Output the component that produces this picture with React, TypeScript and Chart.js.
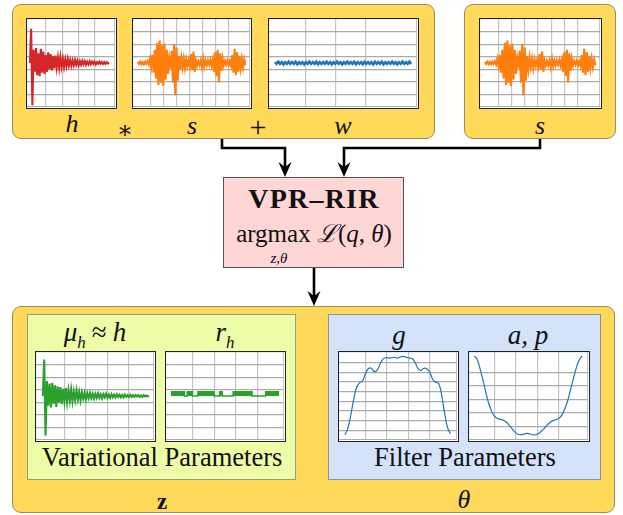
import React, { useEffect, useRef } from "react";
import { Chart, registerables } from "chart.js";

Chart.register(...registerables);

// ---------- data ----------
const hSignal = [
  0, 0.78, -0.96, 0.3, -0.2, 0.34, -0.28, 0.22, -0.3, 0.32, -0.22, 0.26, -0.25, 0.18, -0.2, 0.24,
  -0.14, 0.2, -0.17, 0.15, -0.12, 0.17, -0.1, 0.12, -0.11, 0.13, -0.08, 0.1, -0.09, 0.08, -0.07,
  0.09, -0.06, 0.07, -0.06, 0.06, -0.05, 0.07, -0.04, 0.05, -0.05, 0.04, -0.04, 0.05, -0.03, 0.04,
  -0.04, 0.03, -0.03, 0.04, -0.03, 0.03, -0.02, 0.03, -0.03, 0.02, -0.02, 0.03, -0.02, 0.02, -0.02,
  0.02, -0.02, 0.02, -0.01, 0,
];

const sSignal = [
  0.03, -0.02, 0.03, -0.03, 0.02, -0.03, 0.03, -0.02, 0.04, -0.03,
  0.1, -0.08, 0.18, -0.22,
  0.3, -0.35, 0.46, -0.5, 0.51, -0.45, 0.4, -0.52, 0.44, -0.38, 0.3, -0.25,
  0.1, -0.12,
  0.28, -0.45, 0.43, -0.74, 0.35, -0.4,
  0.15, -0.14, 0.12, -0.1, 0.1, -0.12, 0.08, -0.07, 0.06, -0.08,
  0.2, -0.16, 0.26, -0.2,
  0.05, -0.06, 0.04, -0.05, 0.06,
  -0.1, 0.1, -0.08, 0.05,
  -0.05, 0.06, -0.04, 0.07, -0.06, 0.08,
  -0.2, 0.25, -0.3, 0.3, -0.44, 0.22, -0.18, 0.1,
  -0.06, 0.05, -0.04, 0.05, -0.05, 0.04, -0.06,
  0.18, -0.22, 0.32, -0.28, 0.25, -0.2, 0.15,
  -0.12, 0.1, -0.1, 0.08, -0.05,
];

const wSignal = [
  0.02, -0.02, 0.03, -0.02, 0.02, -0.03, 0.02, -0.02, 0.03, -0.02,
  0.02, -0.02, 0.03, -0.03, 0.02, -0.02, 0.02, -0.03, 0.02, -0.02,
  0.03, -0.02, 0.02, -0.02, 0.03, -0.03, 0.02, -0.02, 0.02, -0.02,
  0.03, -0.02, 0.02, -0.03, 0.02, -0.02, 0.03, -0.02, 0.02, -0.03,
  0.02, -0.02, 0.03, -0.02, 0.02, -0.02, 0.03, -0.03, 0.02, -0.02,
  0.02, -0.03, 0.03, -0.02, 0.02, -0.02, 0.02, -0.03, 0.03, -0.02,
  0.02, -0.02, 0.03, -0.03, 0.02, -0.02, 0.02, -0.02, 0.03, -0.02,
  0.02, -0.03, 0.02, -0.02, 0.03, -0.02, 0.02, -0.02, 0.03, -0.02,
];

const muSignal = [
  0, 0.83, -0.9, 0.34, -0.22, 0.28, -0.26, 0.3, -0.18, 0.24, -0.25, 0.22, -0.15, 0.2, -0.18, 0.16,
  -0.12, 0.18, -0.14, 0.13, -0.1, 0.15, -0.12, 0.1, -0.09, 0.12, -0.08, 0.09, -0.1, 0.08, -0.06,
  0.07, -0.08, 0.06, -0.05, 0.07, -0.05, 0.05, -0.06, 0.05, -0.04, 0.06, -0.04, 0.04, -0.05, 0.04,
  -0.03, 0.05, -0.04, 0.03, -0.04, 0.04, -0.03, 0.03, -0.03, 0.04, -0.02, 0.03, -0.03, 0.02, -0.03,
  0.03, -0.02, 0.02, -0.02, 0.03, -0.02, 0.02, -0.02, 0.02, -0.01, 0.02, -0.02, 0.01, -0.02, 0.02,
  -0.01, 0.01, -0.01, 0,
];

const rhMask = [
  0.1, 0.1, 0.1, 0.1, 0.1, 0.1, 0, 0.1, 0.1, 0, 0, 0.1, 0.1, 0.1, 0.1, 0.1, 0.1, 0, 0, 0.1,
  0, 0, 0, 0, 0.1, 0.1, 0.1, 0.1, 0.1, 0.1, 0.1, 0, 0, 0, 0, 0, 0.1, 0.1, 0.1, 0.1, 0.1,
];

const gCurve = [
  0.06, 0.13, 0.28, 0.46, 0.6, 0.65, 0.67, 0.75, 0.81, 0.815, 0.78, 0.79, 0.86, 0.92, 0.935, 0.93,
  0.935, 0.94, 0.93, 0.945, 0.95, 0.94, 0.93, 0.925, 0.88, 0.81, 0.79, 0.815, 0.81, 0.77, 0.69,
  0.655, 0.645, 0.52, 0.32, 0.15, 0.07,
];

const apCurve = [
  0.955, 0.92, 0.82, 0.69, 0.55, 0.42, 0.33, 0.27, 0.245, 0.235, 0.225, 0.205, 0.17, 0.13, 0.09,
  0.065, 0.06, 0.065, 0.075, 0.07, 0.06, 0.06, 0.07, 0.1, 0.13, 0.17, 0.2, 0.22, 0.23, 0.245, 0.28,
  0.35, 0.44, 0.57, 0.7, 0.82, 0.91, 0.955,
];

// ---------- colours ----------
const RED = "#d62728";
const ORANGE = "#ff7f0e";
const BLUE = "#1f77b4";
const GREEN = "#2ca02c";
const YELLOW = "#FFD95A";

const toXY = (arr: number[]) => arr.map((v, i) => ({ x: i, y: v }));

type MiniProps = {
  left: number;
  top: number;
  width: number;
  height: number;
  datasets: any[];
  xMin: number;
  xMax: number;
  xStep: number;
  yMin: number;
  yMax: number;
  yStep: number;
};

function Mini(p: MiniProps) {
  const ref = useRef<HTMLCanvasElement | null>(null);
  useEffect(() => {
    if (!ref.current) return;
    const chart = new Chart(ref.current, {
      type: "line",
      data: { datasets: p.datasets },
      options: {
        animation: false,
        responsive: false,
        events: [],
        layout: { padding: 0 },
        plugins: { legend: { display: false }, tooltip: { enabled: false }, title: { display: false } },
        elements: { point: { radius: 0 } },
        scales: {
          x: {
            type: "linear",
            min: p.xMin,
            max: p.xMax,
            ticks: { display: false, stepSize: p.xStep },
            grid: { color: "#c4c4c4", lineWidth: 1.2, drawTicks: false },
            border: { display: false },
          },
          y: {
            type: "linear",
            min: p.yMin,
            max: p.yMax,
            ticks: { display: false, stepSize: p.yStep },
            grid: { color: "#ababab", lineWidth: 1.2, drawTicks: false },
            border: { display: false },
          },
        },
      },
    });
    return () => chart.destroy();
  }, []);
  return (
    <div
      style={{
        position: "absolute",
        left: p.left,
        top: p.top,
        width: p.width,
        height: p.height,
        boxSizing: "border-box",
        border: "1.5px solid #222",
        background: "#fff",
      }}
    >
      <canvas ref={ref} width={p.width - 3} height={p.height - 3} style={{ display: "block" }} />
    </div>
  );
}

const wave = (arr: number[], color: string, w = 2.1) => ({
  data: toXY(arr),
  borderColor: color,
  borderWidth: w,
  pointRadius: 0,
  tension: 0,
  fill: false,
});

function Box(props: { left: number; top: number; width: number; height: number; bg: string; border: string; radius?: number }) {
  return (
    <div
      style={{
        position: "absolute",
        left: props.left,
        top: props.top,
        width: props.width,
        height: props.height,
        boxSizing: "border-box",
        background: props.bg,
        border: props.border,
        borderRadius: props.radius ?? 0,
      }}
    />
  );
}

function Label(props: { x: number; y: number; size: number; children: any; bold?: boolean; italic?: boolean; spacing?: number }) {
  return (
    <div
      style={{
        position: "absolute",
        left: props.x,
        top: props.y,
        transform: "translate(-50%, -50%)",
        fontSize: props.size,
        lineHeight: 1,
        whiteSpace: "nowrap",
        fontWeight: props.bold ? "bold" : "normal",
        fontStyle: props.italic ? "italic" : "normal",
        letterSpacing: props.spacing ?? 0,
        color: "#111",
      }}
    >
      {props.children}
    </div>
  );
}

function arrowHead(x: number, ty: number) {
  return `${x},${ty} ${x - 6.5},${ty - 15} ${x},${ty - 10} ${x + 6.5},${ty - 15}`;
}

export default function App() {
  const YR = { yMin: -1, yMax: 1, yStep: 2 / 7 };
  return (
    <div
      style={{
        position: "absolute",
        left: 0,
        top: 0,
        width: 623,
        height: 515,
        background: "#fff",
        overflow: "hidden",
        fontFamily: '"Liberation Serif", "DejaVu Serif", serif',
      }}
    >
      {/* top boxes */}
      <Box left={12} top={4} width={423} height={135} bg={YELLOW} border="1.3px solid #9b8c5c" radius={9} />
      <Box left={464} top={4} width={152} height={135} bg={YELLOW} border="1.3px solid #9b8c5c" radius={9} />

      <Mini left={26} top={18} width={91} height={91} datasets={[wave(hSignal, RED)]} xMin={-2.4} xMax={69.8} xStep={13.2} {...YR} />
      <Mini left={132} top={18} width={120} height={91} datasets={[wave(sSignal, ORANGE)]} xMin={-4} xMax={92.7} xStep={10.7} {...YR} />
      <Mini left={268} top={18} width={151} height={91} datasets={[wave(wSignal, BLUE, 2.6)]} xMin={-3.4} xMax={82.4} xStep={17.6} {...YR} />
      <Mini left={479} top={18} width={123} height={91} datasets={[wave(sSignal, ORANGE)]} xMin={-4} xMax={92.7} xStep={10.7} {...YR} />

      <Label x={72} y={124} size={26} italic>h</Label>
      <Label x={125} y={130} size={24}>∗</Label>
      <Label x={192} y={126} size={26} italic>s</Label>
      <Label x={258} y={127} size={30}>+</Label>
      <Label x={343} y={126} size={26} italic>w</Label>
      <Label x={540} y={126} size={26} italic>s</Label>

      {/* pink box */}
      <Box left={223} top={177} width={181} height={91} bg="#FFD6D6" border="1.3px solid #555" />
      <Label x={314} y={199} size={28} bold spacing={1.2}>VPR–RIR</Label>
      <Label x={314} y={233} size={25}>
        argmax <span style={{ fontFamily: '"DejaVu Serif", serif', fontStyle: "italic" }}>ℒ</span>(<i>q</i>, <i>θ</i>)
      </Label>
      <Label x={279} y={258} size={15} italic>z,θ</Label>

      {/* bottom box */}
      <Box left={12} top={306} width={603} height={207} bg={YELLOW} border="1.3px solid #9b8c5c" radius={9} />
      <Box left={27} top={314} width={269} height={166} bg="#EDFCA6" border="1.3px solid #9a9a80" />
      <Box left={328} top={314} width={273} height={166} bg="#D4E2FA" border="1.3px solid #8c919c" />

      <Label x={95} y={335} size={27}>
        <i>μ</i>
        <sub style={{ fontSize: 17, fontStyle: "italic" }}>h</sub>
        <span style={{ margin: "0 6px" }}>≈</span>
        <i>h</i>
      </Label>
      <Label x={225} y={335} size={27}>
        <i>r</i>
        <sub style={{ fontSize: 17, fontStyle: "italic" }}>h</sub>
      </Label>
      <Label x={399} y={335} size={27} italic>g</Label>
      <Label x={528} y={335} size={27} italic>a, p</Label>

      <Mini left={35} top={351} width={121} height={91} datasets={[wave(muSignal, GREEN)]} xMin={-5.1} xMax={82.6} xStep={16} {...YR} />
      <Mini
        left={165}
        top={351}
        width={121}
        height={91}
        datasets={[
          {
            data: toXY(rhMask),
            borderColor: GREEN,
            backgroundColor: GREEN,
            borderWidth: 1.4,
            pointRadius: 0,
            stepped: "after",
            fill: "origin",
          },
        ]}
        xMin={-1.8}
        xMax={41.8}
        xStep={8}
        {...YR}
      />
      <Mini
        left={338}
        top={351}
        width={121}
        height={91}
        datasets={[{ data: toXY(gCurve), borderColor: BLUE, borderWidth: 1.2, pointRadius: 0, tension: 0.4, fill: false }]}
        xMin={-2}
        xMax={38.3}
        xStep={7.2}
        yMin={0}
        yMax={1}
        yStep={0.11}
      />
      <Mini
        left={468}
        top={351}
        width={122}
        height={91}
        datasets={[{ data: toXY(apCurve), borderColor: BLUE, borderWidth: 1.2, pointRadius: 0, tension: 0.4, fill: false }]}
        xMin={-1.7}
        xMax={39}
        xStep={7.2}
        yMin={0}
        yMax={1}
        yStep={0.154}
      />

      <Label x={162} y={457} size={26.5}>Variational Parameters</Label>
      <Label x={465} y={457} size={26.5}>Filter Parameters</Label>
      <Label x={162} y={501} size={23} bold>z</Label>
      <Label x={464} y={500} size={26} italic>θ</Label>

      {/* arrows */}
      <svg width={623} height={515} style={{ position: "absolute", left: 0, top: 0, pointerEvents: "none" }}>
        <polyline points="222,139 222,148 285,148 285,168" fill="none" stroke="#000" strokeWidth={2.6} />
        <polygon points={arrowHead(285, 177)} fill="#000" />
        <polyline points="540,139 540,148 344,148 344,168" fill="none" stroke="#000" strokeWidth={2.6} />
        <polygon points={arrowHead(344, 177)} fill="#000" />
        <line x1={314} y1={268} x2={314} y2={297} stroke="#000" strokeWidth={2.6} />
        <polygon points={arrowHead(314, 306)} fill="#000" />
      </svg>
    </div>
  );
}
